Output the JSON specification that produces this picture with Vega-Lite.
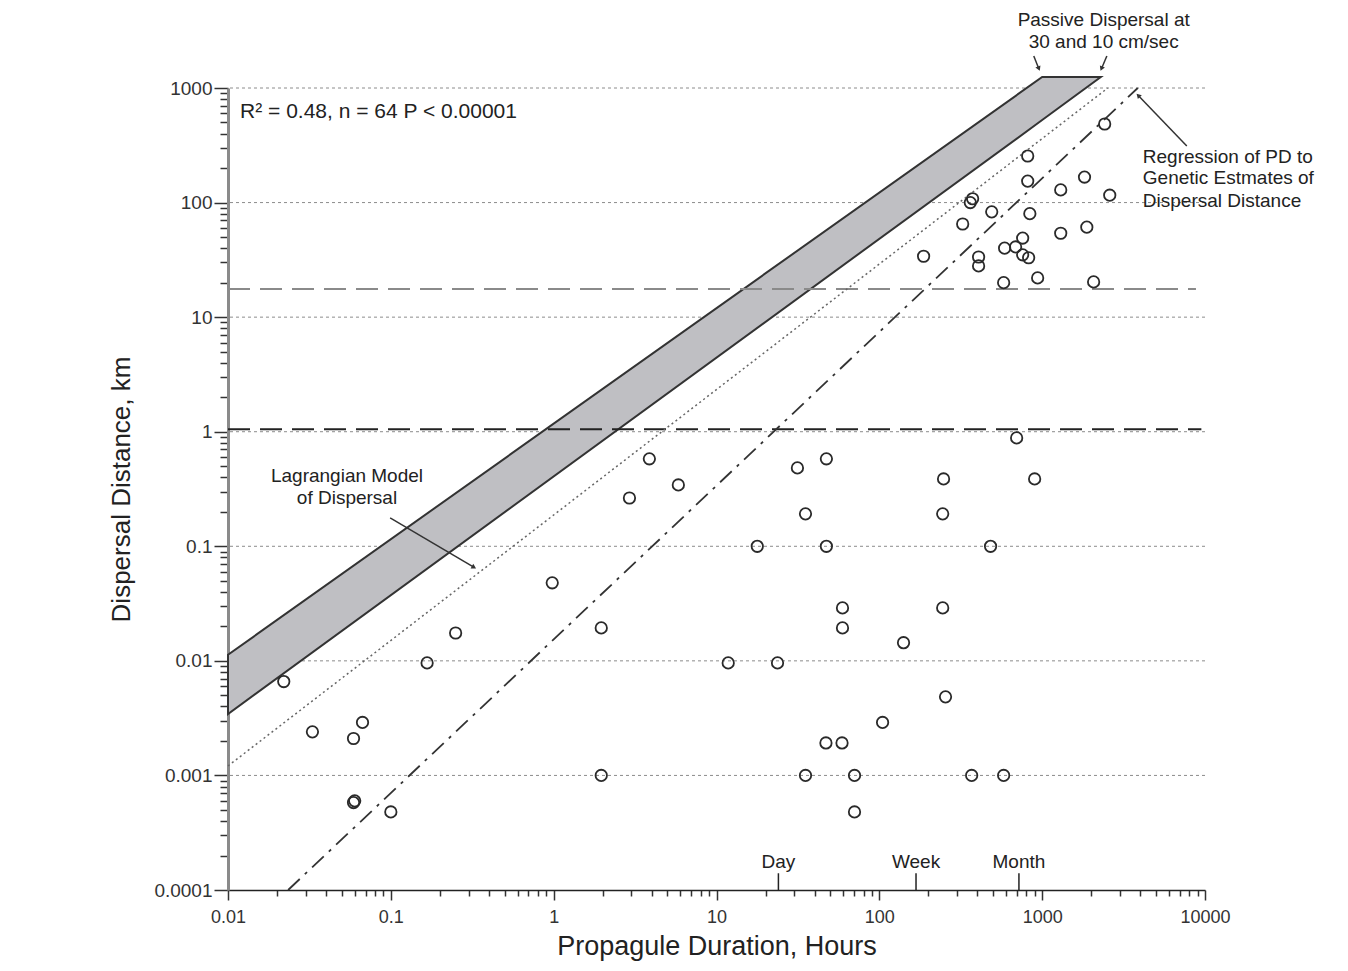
{
  "$schema": "https://vega.github.io/schema/vega-lite/v6.json",
  "width": 977,
  "height": 802,
  "autosize": {"type": "none"},
  "padding": {"left": 228, "top": 88, "right": 143, "bottom": 81},
  "background": "white",
  "config": {
    "view": {"stroke": null},
    "font": "Liberation Sans",
    "text": {"font": "Liberation Sans", "color": "#222"}
  },
  "datasets": {
    "grid": [{"km": 0.001}, {"km": 0.01}, {"km": 0.1}, {"km": 1}, {"km": 10}, {"km": 100}, {"km": 1000}],
    "band": [
      {"hours": 0.01, "hi": 0.0113, "lo": 0.00344},
      {"hours": 1000, "hi": 1247, "lo": 525},
      {"hours": 2291, "hi": 1247, "lo": 1247}
    ],
    "lagrangian": [{"hours": 0.01, "km": 0.00121}, {"hours": 2530, "km": 1000}],
    "regression": [{"hours": 0.0234, "km": 0.0001}, {"hours": 3864, "km": 1000}],
    "grayline": [{"km": 17.6, "h1": 0.01, "h2": 8800}],
    "blackline": [{"km": 1.05, "h1": 0.01, "h2": 9500}],
    "points": [
      {"hours": 0.022, "km": 0.0066}, {"hours": 0.033, "km": 0.0024}, {"hours": 0.059, "km": 0.0021},
      {"hours": 0.067, "km": 0.0029}, {"hours": 0.06, "km": 0.0006}, {"hours": 0.059, "km": 0.00058},
      {"hours": 0.1, "km": 0.00048}, {"hours": 0.167, "km": 0.0096}, {"hours": 0.25, "km": 0.0175},
      {"hours": 0.98, "km": 0.048}, {"hours": 1.96, "km": 0.0194}, {"hours": 1.96, "km": 0.001},
      {"hours": 2.92, "km": 0.264}, {"hours": 3.87, "km": 0.58}, {"hours": 5.83, "km": 0.343},
      {"hours": 11.8, "km": 0.0096}, {"hours": 17.8, "km": 0.1}, {"hours": 23.7, "km": 0.0096},
      {"hours": 31.4, "km": 0.483}, {"hours": 35.2, "km": 0.192}, {"hours": 35.2, "km": 0.001},
      {"hours": 47.3, "km": 0.58}, {"hours": 47.3, "km": 0.1}, {"hours": 59.4, "km": 0.029},
      {"hours": 59.4, "km": 0.0194}, {"hours": 47, "km": 0.00192}, {"hours": 59, "km": 0.00192},
      {"hours": 70.4, "km": 0.001}, {"hours": 70.4, "km": 0.00048}, {"hours": 104.7, "km": 0.0029},
      {"hours": 140.8, "km": 0.0144}, {"hours": 248, "km": 0.387}, {"hours": 245, "km": 0.192},
      {"hours": 245, "km": 0.029}, {"hours": 255, "km": 0.00485}, {"hours": 369, "km": 0.001},
      {"hours": 580, "km": 0.001}, {"hours": 482, "km": 0.1}, {"hours": 697, "km": 0.883},
      {"hours": 899, "km": 0.387},
      {"hours": 2420, "km": 485}, {"hours": 815, "km": 255}, {"hours": 815, "km": 154},
      {"hours": 1820, "km": 167}, {"hours": 1300, "km": 129}, {"hours": 2600, "km": 116},
      {"hours": 374, "km": 108}, {"hours": 362, "km": 100}, {"hours": 490, "km": 83},
      {"hours": 840, "km": 80}, {"hours": 325, "km": 65}, {"hours": 1300, "km": 54},
      {"hours": 1880, "km": 61}, {"hours": 187, "km": 34}, {"hours": 407, "km": 33.5},
      {"hours": 407, "km": 28}, {"hours": 588, "km": 40}, {"hours": 687, "km": 41},
      {"hours": 759, "km": 49}, {"hours": 759, "km": 35}, {"hours": 826, "km": 33},
      {"hours": 580, "km": 20}, {"hours": 938, "km": 22}, {"hours": 2070, "km": 20.3}
    ],
    "periods": [
      {"label": "Day", "hours": 24, "km": 0.0001, "km2": 0.00014, "ty": 0.000175},
      {"label": "Week", "hours": 168, "km": 0.0001, "km2": 0.00014, "ty": 0.000175},
      {"label": "Month", "hours": 720, "km": 0.0001, "km2": 0.00014, "ty": 0.000175}
    ],
    "arrows": [
      {"h1": 0.099, "k1": 0.177, "h2": 0.321, "k2": 0.066},
      {"h1": 7730, "k1": 312, "h2": 3918, "k2": 851},
      {"h1": 888, "k1": 1901, "h2": 950, "k2": 1496},
      {"h1": 2496, "k1": 1901, "h2": 2323, "k2": 1496}
    ],
    "heads": [
      {"hours": 0.321, "km": 0.066, "ang": 120},
      {"hours": 3918, "km": 851, "ang": 316},
      {"hours": 950, "km": 1496, "ang": 157},
      {"hours": 2323, "km": 1496, "ang": 203}
    ],
    "rtext": [{"hours": 0.01186, "km": 618, "t": "R² = 0.48, n = 64 P < 0.00001"}],
    "ctext": [
      {"hours": 2387, "km": 3918, "t": "Passive Dispersal at"},
      {"hours": 2387, "km": 2518, "t": "30 and 10 cm/sec"},
      {"hours": 0.0538, "km": 0.411, "t": "Lagrangian Model"},
      {"hours": 0.0538, "km": 0.264, "t": "of Dispersal"}
    ],
    "ltext": [
      {"hours": 4150, "km": 250, "t": "Regression of PD to"},
      {"hours": 4150, "km": 164, "t": "Genetic Estmates of"},
      {"hours": 4150, "km": 103, "t": "Dispersal Distance"}
    ]
  },
  "layer": [
    {
      "data": {"name": "grid"},
      "mark": {"type": "rule", "color": "#8c8c8c", "strokeWidth": 1, "strokeDash": [3, 3]},
      "encoding": {
        "y": {
          "field": "km", "type": "quantitative",
          "scale": {"type": "log", "domain": [0.0001, 1000], "nice": false, "zero": false},
          "axis": {
            "title": "Dispersal Distance, km",
            "titleFont": "Liberation Sans", "titleFontSize": 26, "titleFontWeight": "normal",
            "titleColor": "#222", "titlePadding": 19,
            "values": [0.0001,0.0002,0.0003,0.0004,0.0005,0.0006,0.0007,0.0008,0.0009,0.001,0.002,0.003,0.004,0.005,0.006,0.007,0.008,0.009,0.01,0.02,0.03,0.04,0.05,0.06,0.07,0.08,0.09,0.1,0.2,0.3,0.4,0.5,0.6,0.7,0.8,0.9,1,2,3,4,5,6,7,8,9,10,20,30,40,50,60,70,80,90,100,200,300,400,500,600,700,800,900,1000],
            "format": "~g",
            "labelExpr": "abs(log(datum.value)/LN10 - round(log(datum.value)/LN10)) < 0.01 ? datum.label : ''",
            "labelOverlap": false, "labelFlush": false,
            "labelFont": "Liberation Sans", "labelFontSize": 19, "labelColor": "#333", "labelPadding": 2,
            "tickColor": "#333", "tickWidth": 1.5,
            "tickSize": {"condition": {"test": "abs(log(datum.value)/LN10 - round(log(datum.value)/LN10)) < 0.01", "value": 14}, "value": 8},
            "domainColor": "#8a8a8a", "domainWidth": 3, "grid": false
          }
        }
      }
    },
    {
      "data": {"name": "band"},
      "mark": {"type": "area", "color": "#bfbfc3", "stroke": "#333", "strokeWidth": 2, "opacity": 1},
      "encoding": {
        "x": {
          "field": "hours", "type": "quantitative",
          "scale": {"type": "log", "domain": [0.01, 10000], "nice": false, "zero": false},
          "axis": {
            "title": "Propagule Duration, Hours",
            "titleFont": "Liberation Sans", "titleFontSize": 27, "titleFontWeight": "normal",
            "titleColor": "#222", "titlePadding": 7,
            "values": [0.01,0.02,0.03,0.04,0.05,0.06,0.07,0.08,0.09,0.1,0.2,0.3,0.4,0.5,0.6,0.7,0.8,0.9,1,2,3,4,5,6,7,8,9,10,20,30,40,50,60,70,80,90,100,200,300,400,500,600,700,800,900,1000,2000,3000,4000,5000,6000,7000,8000,9000,10000],
            "format": "~g",
            "labelExpr": "abs(log(datum.value)/LN10 - round(log(datum.value)/LN10)) < 0.01 ? datum.label : ''",
            "labelOverlap": false, "labelFlush": false,
            "labelFont": "Liberation Sans", "labelFontSize": 18, "labelColor": "#333", "labelPadding": 8,
            "tickColor": "#333", "tickWidth": 1.5,
            "tickSize": {"condition": {"test": "abs(log(datum.value)/LN10 - round(log(datum.value)/LN10)) < 0.01", "value": 10}, "value": 6},
            "domainColor": "#222", "domainWidth": 1.5, "grid": false
          }
        },
        "y": {"field": "hi", "type": "quantitative", "scale": {"type": "log", "domain": [0.0001, 1000], "nice": false, "zero": false}},
        "y2": {"field": "lo"}
      }
    },
    {
      "data": {"name": "grayline"},
      "mark": {"type": "rule", "color": "#8a8a8a", "strokeWidth": 2, "strokeDash": [22, 10]},
      "encoding": {
        "x": {"field": "h1", "type": "quantitative", "scale": {"type": "log", "domain": [0.01, 10000], "nice": false, "zero": false}},
        "x2": {"field": "h2"},
        "y": {"field": "km", "type": "quantitative", "scale": {"type": "log", "domain": [0.0001, 1000], "nice": false, "zero": false}}
      }
    },
    {
      "data": {"name": "blackline"},
      "mark": {"type": "rule", "color": "#222", "strokeWidth": 2, "strokeDash": [22, 10]},
      "encoding": {
        "x": {"field": "h1", "type": "quantitative", "scale": {"type": "log", "domain": [0.01, 10000], "nice": false, "zero": false}},
        "x2": {"field": "h2"},
        "y": {"field": "km", "type": "quantitative", "scale": {"type": "log", "domain": [0.0001, 1000], "nice": false, "zero": false}}
      }
    },
    {
      "data": {"name": "lagrangian"},
      "mark": {"type": "line", "color": "#666", "strokeWidth": 1.5, "strokeDash": [2, 3]},
      "encoding": {
        "x": {"field": "hours", "type": "quantitative", "scale": {"type": "log", "domain": [0.01, 10000], "nice": false, "zero": false}},
        "y": {"field": "km", "type": "quantitative", "scale": {"type": "log", "domain": [0.0001, 1000], "nice": false, "zero": false}}
      }
    },
    {
      "data": {"name": "regression"},
      "mark": {"type": "line", "color": "#333", "strokeWidth": 1.8, "strokeDash": [16, 7, 3, 7]},
      "encoding": {
        "x": {"field": "hours", "type": "quantitative", "scale": {"type": "log", "domain": [0.01, 10000], "nice": false, "zero": false}},
        "y": {"field": "km", "type": "quantitative", "scale": {"type": "log", "domain": [0.0001, 1000], "nice": false, "zero": false}}
      }
    },
    {
      "data": {"name": "points"},
      "mark": {"type": "point", "shape": "circle", "filled": false, "color": "#2a2a2a", "strokeWidth": 1.8, "size": 130, "opacity": 1},
      "encoding": {
        "x": {"field": "hours", "type": "quantitative", "scale": {"type": "log", "domain": [0.01, 10000], "nice": false, "zero": false}},
        "y": {"field": "km", "type": "quantitative", "scale": {"type": "log", "domain": [0.0001, 1000], "nice": false, "zero": false}}
      }
    },
    {
      "data": {"name": "arrows"},
      "mark": {"type": "rule", "color": "#333", "strokeWidth": 1.5},
      "encoding": {
        "x": {"field": "h1", "type": "quantitative", "scale": {"type": "log", "domain": [0.01, 10000], "nice": false, "zero": false}},
        "x2": {"field": "h2"},
        "y": {"field": "k1", "type": "quantitative", "scale": {"type": "log", "domain": [0.0001, 1000], "nice": false, "zero": false}},
        "y2": {"field": "k2"}
      }
    },
    {
      "data": {"name": "heads"},
      "mark": {"type": "point", "shape": "triangle", "filled": true, "color": "#333", "size": 30, "opacity": 1},
      "encoding": {
        "x": {"field": "hours", "type": "quantitative", "scale": {"type": "log", "domain": [0.01, 10000], "nice": false, "zero": false}},
        "y": {"field": "km", "type": "quantitative", "scale": {"type": "log", "domain": [0.0001, 1000], "nice": false, "zero": false}},
        "angle": {"field": "ang", "type": "quantitative", "scale": null}
      }
    },
    {
      "data": {"name": "periods"},
      "mark": {"type": "rule", "color": "#222", "strokeWidth": 1.5},
      "encoding": {
        "x": {"field": "hours", "type": "quantitative", "scale": {"type": "log", "domain": [0.01, 10000], "nice": false, "zero": false}},
        "y": {"field": "km", "type": "quantitative", "scale": {"type": "log", "domain": [0.0001, 1000], "nice": false, "zero": false}},
        "y2": {"field": "km2"}
      }
    },
    {
      "data": {"name": "periods"},
      "mark": {"type": "text", "fontSize": 19, "align": "center", "baseline": "middle", "color": "#222"},
      "encoding": {
        "x": {"field": "hours", "type": "quantitative", "scale": {"type": "log", "domain": [0.01, 10000], "nice": false, "zero": false}},
        "y": {"field": "ty", "type": "quantitative", "scale": {"type": "log", "domain": [0.0001, 1000], "nice": false, "zero": false}},
        "text": {"field": "label"}
      }
    },
    {
      "data": {"name": "rtext"},
      "mark": {"type": "text", "fontSize": 21, "align": "left", "baseline": "middle", "color": "#222"},
      "encoding": {
        "x": {"field": "hours", "type": "quantitative", "scale": {"type": "log", "domain": [0.01, 10000], "nice": false, "zero": false}},
        "y": {"field": "km", "type": "quantitative", "scale": {"type": "log", "domain": [0.0001, 1000], "nice": false, "zero": false}},
        "text": {"field": "t"}
      }
    },
    {
      "data": {"name": "ctext"},
      "mark": {"type": "text", "fontSize": 19, "align": "center", "baseline": "middle", "color": "#222"},
      "encoding": {
        "x": {"field": "hours", "type": "quantitative", "scale": {"type": "log", "domain": [0.01, 10000], "nice": false, "zero": false}},
        "y": {"field": "km", "type": "quantitative", "scale": {"type": "log", "domain": [0.0001, 1000], "nice": false, "zero": false}},
        "text": {"field": "t"}
      }
    },
    {
      "data": {"name": "ltext"},
      "mark": {"type": "text", "fontSize": 19, "align": "left", "baseline": "middle", "color": "#222"},
      "encoding": {
        "x": {"field": "hours", "type": "quantitative", "scale": {"type": "log", "domain": [0.01, 10000], "nice": false, "zero": false}},
        "y": {"field": "km", "type": "quantitative", "scale": {"type": "log", "domain": [0.0001, 1000], "nice": false, "zero": false}},
        "text": {"field": "t"}
      }
    }
  ]
}
